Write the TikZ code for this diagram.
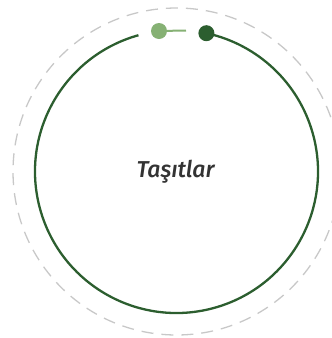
\documentclass[tikz,border=0pt]{standalone}
\usepackage{fontspec}
\setmainfont{Fira Sans}
\newfontfamily\labelfont{Fira Sans Medium Italic}
\definecolor{darkg}{HTML}{2C5E2F}
\definecolor{lightg}{HTML}{86B174}
\definecolor{dashg}{HTML}{C8C8C8}
\definecolor{txtg}{HTML}{333333}
\begin{document}
\begin{tikzpicture}[x=1pt,y=-1pt,
  ring/.style={draw=darkg,line width=2.3pt},
  outerring/.style={draw=dashg,line width=1.3pt,dash pattern=on 12pt off 8pt},
  dotdark/.style={circle,fill=darkg,inner sep=0pt,minimum size=16pt},
  dotlight/.style={circle,fill=lightg,inner sep=0pt,minimum size=16pt},
  label/.style={font=\labelfont\fontsize{23}{27}\selectfont,text=txtg}]
\useasboundingbox (0,0) rectangle (332,338);
\coordinate (c) at (176.5,171.5);
\draw[outerring] (c) circle[radius=163.5];
\draw[ring] ([shift={(-105.6:141.5)}]c) arc[start angle=-105.6,end angle=-437.8,radius=141.5];
\node[dotdark] (d) at ([shift={(-77.8:141.5)}]c) {};
\node[dotlight] (l) at (159,31) {};
\coordinate (le) at (186,30.5);
\draw[lightg,line width=2pt] (l) -- (le);
\node[label] (t) at (175.5,172) {Taşıtlar};
\end{tikzpicture}
\end{document}
